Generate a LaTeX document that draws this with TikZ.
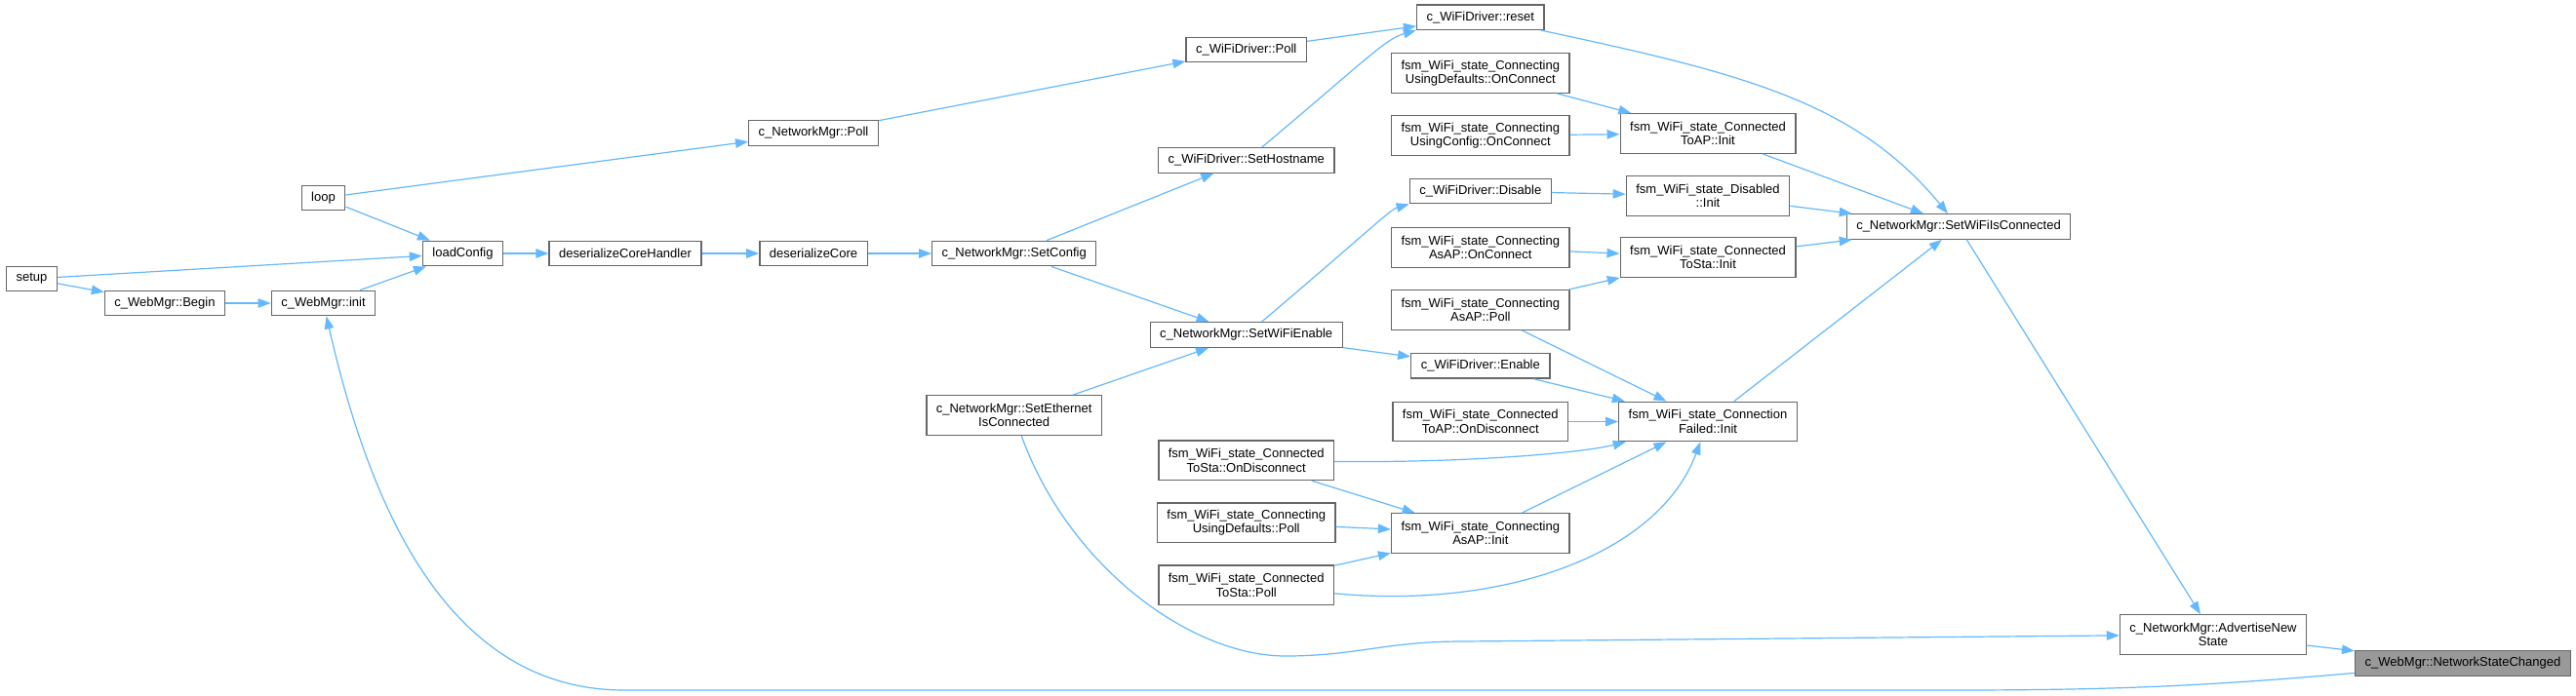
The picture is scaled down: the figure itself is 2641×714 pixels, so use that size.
\documentclass[tikz,border=0pt]{standalone}
\usepackage{fontspec}
\setmainfont{Liberation Sans}
\usetikzlibrary{arrows.meta}

\definecolor{edgeblue}{HTML}{63B8FF}
\definecolor{boxline}{HTML}{666666}
\definecolor{focusgray}{HTML}{999999}

\begin{document}
\begin{tikzpicture}[x=1pt, y=-1pt,
    fn/.style={draw=boxline, fill=white, line width=1.3pt, rectangle, inner xsep=10pt, inner ysep=0pt,
      minimum height=25.5pt, align=center, font=\fontsize{13}{14.3}\selectfont},
    fntwo/.style={fn, minimum height=40.5pt},
    focus/.style={fn, fill=focusgray},
    edge/.style={-{Triangle[length=13pt,width=9.5pt]}, line width=1.2pt, draw=edgeblue},
]
\useasboundingbox (0,0) rectangle (2641,714);

% Entry points
\node[fn] (setup) at (32.5,286) {setup};
\node[fn] (loop) at (331.5,203) {loop};
\node[fn] (begin) at (169,311) {c\_WebMgr::Begin};
\node[fn] (init) at (331.5,311) {c\_WebMgr::init};

% Config loading
\node[fn] (loadConfig) at (474.5,260) {loadConfig};
\node[fn] (desHandler) at (641,260) {deserializeCoreHandler};
\node[fn] (desCore) at (834,260) {deserializeCore};
\node[fn] (nmPoll) at (834,136.5) {c\_NetworkMgr::Poll};
\node[fn] (setConfig) at (1039.7,260) {c\_NetworkMgr::SetConfig};
\node[fntwo] (setEth) at (1039.7,426) {c\_NetworkMgr::SetEthernet\\IsConnected};

% WiFi driver
\node[fn] (wdPoll) at (1277.7,51) {c\_WiFiDriver::Poll};
\node[fn] (hostname) at (1277.7,164.5) {c\_WiFiDriver::SetHostname};
\node[fn] (wifiEnable) at (1277.7,343.5) {c\_NetworkMgr::SetWiFiEnable};
\node[fn] (reset) at (1517.8,17.7) {c\_WiFiDriver::reset};
\node[fn] (disable) at (1517.8,196) {c\_WiFiDriver::Disable};
\node[fn] (enable) at (1517.8,375.3) {c\_WiFiDriver::Enable};

% State machine callers
\node[fntwo] (defConnect) at (1517.8,75) {fsm\_WiFi\_state\_Connecting\\UsingDefaults::OnConnect};
\node[fntwo] (cfgConnect) at (1517.8,139) {fsm\_WiFi\_state\_Connecting\\UsingConfig::OnConnect};
\node[fntwo] (apConnect) at (1517.8,254) {fsm\_WiFi\_state\_Connecting\\AsAP::OnConnect};
\node[fntwo] (apPoll) at (1517.8,318) {fsm\_WiFi\_state\_Connecting\\AsAP::Poll};
\node[fntwo] (apDisconnect) at (1517.8,432.5) {fsm\_WiFi\_state\_Connected\\ToAP::OnDisconnect};
\node[fntwo] (apInit) at (1517.8,547) {fsm\_WiFi\_state\_Connecting\\AsAP::Init};
\node[fntwo] (staDisconnect) at (1277.7,472.3) {fsm\_WiFi\_state\_Connected\\ToSta::OnDisconnect};
\node[fntwo] (defPoll) at (1277.7,536.3) {fsm\_WiFi\_state\_Connecting\\UsingDefaults::Poll};
\node[fntwo] (staPoll) at (1277.7,600.3) {fsm\_WiFi\_state\_Connected\\ToSta::Poll};

% State inits
\node[fntwo] (toApInit) at (1751,137) {fsm\_WiFi\_state\_Connected\\ToAP::Init};
\node[fntwo] (disInit) at (1751,201) {fsm\_WiFi\_state\_Disabled\\::Init};
\node[fntwo] (toStaInit) at (1751,264) {fsm\_WiFi\_state\_Connected\\ToSta::Init};
\node[fntwo] (failInit) at (1751,432.5) {fsm\_WiFi\_state\_Connection\\Failed::Init};

% Network manager and web manager
\node[fn] (wifiConn) at (2008,232.5) {c\_NetworkMgr::SetWiFiIsConnected};
\node[fntwo] (advertise) at (2269,651) {c\_NetworkMgr::AdvertiseNew\\State};
\node[focus] (stateChanged) at (2525,680.5) {c\_WebMgr::NetworkStateChanged};

% Edges
\draw[edge] (setup) -- (loadConfig);
\draw[edge] (setup) -- (begin);
\draw[edge] (begin) -- (init);
\draw[edge] (init) -- (loadConfig);
\draw[edge] (loop) -- (loadConfig);
\draw[edge] (loop) -- (nmPoll);
\draw[edge] (loadConfig) -- (desHandler);
\draw[edge] (desHandler) -- (desCore);
\draw[edge] (desCore) -- (setConfig);
\draw[edge] (nmPoll) -- (wdPoll);
\draw[edge] (wdPoll) -- (reset);
\draw[edge] (setConfig) -- (hostname);
\draw[edge] (setConfig) -- (wifiEnable);
\draw[edge] (hostname) .. controls (1400,62) and (1420,40) .. (reset.south west);
\draw[edge] (wifiEnable) .. controls (1400,240) and (1425,215) .. (disable.south west);
\draw[edge] (wifiEnable) -- (enable);
\draw[edge] (setEth) -- (wifiEnable);
\draw[edge] (setEth) .. controls (1095,580) and (1220,673) .. (1318,673)
  .. controls (1390,673) and (1420,658) .. (1500,658) -- (advertise);

\draw[edge] (defConnect) -- (toApInit);
\draw[edge] (cfgConnect) -- (toApInit);
\draw[edge] (disable) -- (disInit);
\draw[edge] (apConnect) -- (toStaInit);
\draw[edge] (apPoll) -- (toStaInit);
\draw[edge] (apPoll) -- (failInit);
\draw[edge] (enable) -- (failInit);
\draw[edge] (apDisconnect) -- (failInit);
\draw[edge] (staDisconnect) .. controls (1500,475) and (1620,465) .. (failInit);
\draw[edge] (staDisconnect) -- (apInit);
\draw[edge] (defPoll) -- (apInit);
\draw[edge] (staPoll) -- (apInit);
\draw[edge] (staPoll) .. controls (1540,625) and (1700,570) .. (failInit);
\draw[edge] (apInit) -- (failInit);

\draw[edge] (reset) .. controls (1784,75) and (1901,103) .. (wifiConn);
\draw[edge] (toApInit) -- (wifiConn);
\draw[edge] (disInit) -- (wifiConn);
\draw[edge] (toStaInit) -- (wifiConn);
\draw[edge] (failInit) -- (wifiConn);
\draw[edge] (wifiConn) -- (advertise);
\draw[edge] (advertise) -- (stateChanged);
\draw[edge] (stateChanged) .. controls (2250,705) and (2150,708) .. (2000,708) -- (640,708)
  .. controls (450,708) and (375,500) .. (init);

\end{tikzpicture}
\end{document}
